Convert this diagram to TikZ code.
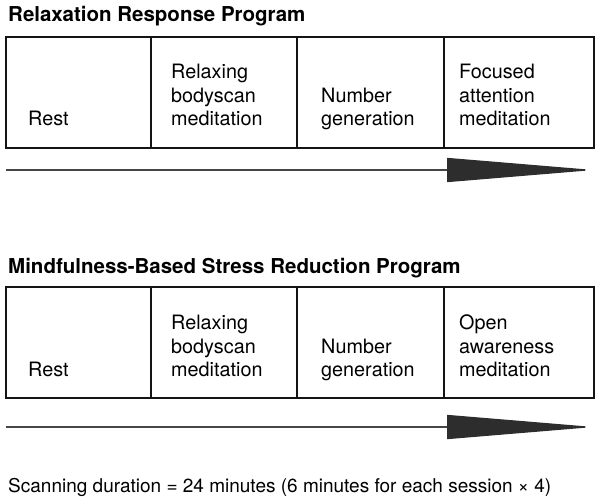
\documentclass[tikz,border=0pt]{standalone}
\usepackage{fontspec}
\setmainfont{TeX Gyre Heros}
\usetikzlibrary{arrows.meta,positioning}
\definecolor{boxblack}{RGB}{20,20,20}
\definecolor{linegray}{RGB}{70,70,70}
\definecolor{tipdark}{RGB}{45,45,45}

\begin{document}
\begin{tikzpicture}[
        x=1pt, y=-1pt,
        cell/.style={draw=boxblack, line width=1.4pt, minimum height=111pt, minimum width=#1, inner sep=0pt, outer sep=0pt, anchor=north west},
        celltext/.style={font=\fontsize{19.8}{23.5}\selectfont, align=left, inner sep=0pt, text depth=0pt},
        title/.style={font=\fontsize{20.5}{24}\selectfont\bfseries, inner sep=0pt, anchor=base west},
        timeline/.style={-{Triangle[length=147pt, width=24pt, color=tipdark]}, line width=1.4pt, linegray}
    ]
        \useasboundingbox (0,0) rectangle (601,503);

        % Relaxation response program
        \node[title] (rrtitle) at (8,22) {Relaxation Response Program};
        \node[cell=145pt] (rr1) at (6,37) {};
        \node[cell=146pt, right=0pt of rr1] (rr2) {};
        \node[cell=147pt, right=0pt of rr2] (rr3) {};
        \node[cell=150pt, right=0pt of rr3] (rr4) {};
        \node[celltext, above right=22pt and 22pt of rr1.south west] (rrt1) {Rest};
        \node[celltext, above right=22pt and 20pt of rr2.south west] (rrt2) {Relaxing\\bodyscan\\meditation};
        \node[celltext, above right=22pt and 24pt of rr3.south west] (rrt3) {Number\\generation};
        \node[celltext, above right=22pt and 15pt of rr4.south west] (rrt4) {Focused\\attention\\meditation};
        \coordinate (rrs) at (6,170);
        \coordinate (rre) at (594,170);
        \draw[timeline] (rrs) -- (rre);

        % Mindfulness-based stress reduction program
        \node[title] (mbtitle) at (8,273) {Mindfulness-Based Stress Reduction Program};
        \node[cell=145pt] (mb1) at (6,287) {};
        \node[cell=146pt, right=0pt of mb1] (mb2) {};
        \node[cell=147pt, right=0pt of mb2] (mb3) {};
        \node[cell=150pt, right=0pt of mb3] (mb4) {};
        \node[celltext, above right=21pt and 22pt of mb1.south west] (mbt1) {Rest};
        \node[celltext, above right=21pt and 20pt of mb2.south west] (mbt2) {Relaxing\\bodyscan\\meditation};
        \node[celltext, above right=21pt and 24pt of mb3.south west] (mbt3) {Number\\generation};
        \node[celltext, above right=21pt and 15pt of mb4.south west] (mbt4) {Open\\awareness\\meditation};
        \coordinate (mbs) at (6,427);
        \coordinate (mbe) at (594,427);
        \draw[timeline] (mbs) -- (mbe);

        % Scan duration
        \node[font=\fontsize{19}{23}\selectfont, inner sep=0pt, anchor=base west] (scan) at (8,492) {Scanning duration = 24 minutes (6 minutes for each session × 4)};
    \end{tikzpicture}
\end{document}
